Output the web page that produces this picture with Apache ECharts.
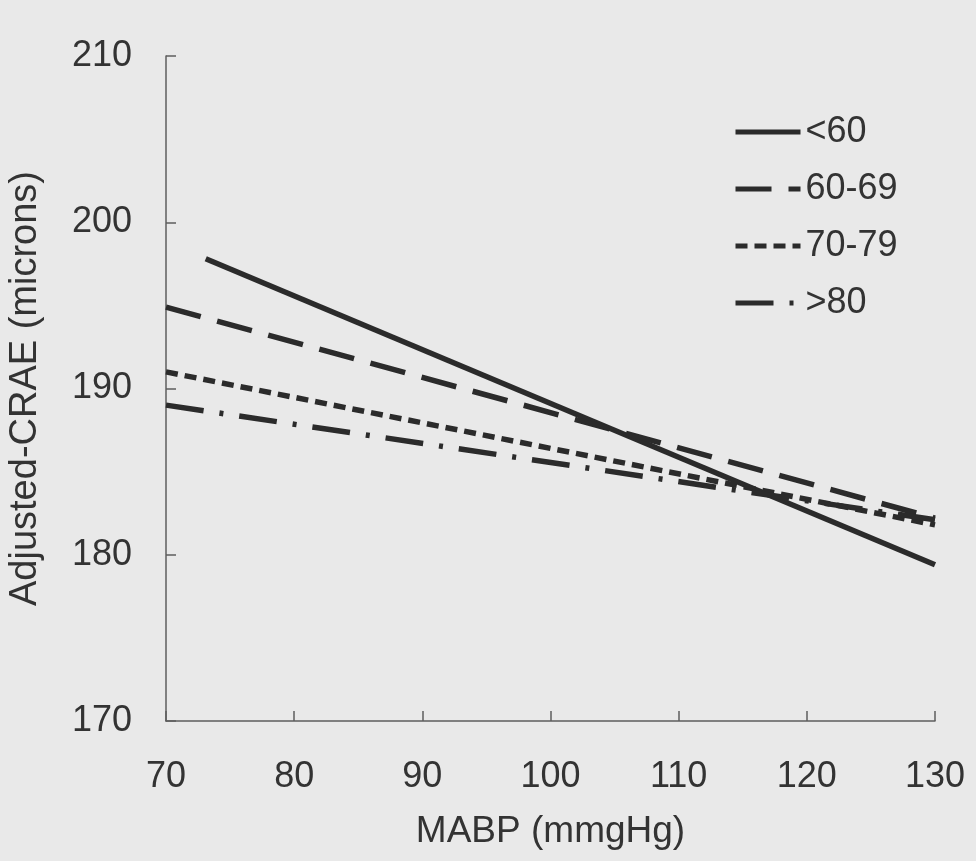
<!DOCTYPE html>
<html>
<head>
<meta charset="utf-8">
<script src="https://cdn.jsdelivr.net/npm/echarts@6/dist/echarts.min.js"></script>
<style>
html,body{margin:0;padding:0;background:#e9e9e9;}
#chart{width:976px;height:861px;}
</style>
</head>
<body>
<div id="chart"></div>
<script>
// Data
const seriesNames = ['<60', '60-69', '70-79', '>80'];
const mabpLt60 = [73.1, 130];
const craeLt60 = [197.8, 179.4];
const mabp6069 = [70, 130];
const crae6069 = [194.9, 182.2];
const mabp7079 = [70, 130];
const crae7079 = [191.0, 181.8];
const mabpGt80 = [70, 130];
const craeGt80 = [189.0, 182.1];
const xTicks = [70, 80, 90, 100, 110, 120, 130];
const yTicks = [170, 180, 190, 200, 210];

const pairs = (xs, ys) => xs.map((x, i) => [x, ys[i]]);
const lineColor = '#2b2b2b';
const textColor = '#333333';
const font = 'Liberation Sans, Arial, sans-serif';

const dashStyles = [
  'solid',
  [36, 17],
  [12, 7],
  [38, 16, 4, 16]
];
const dataSets = [
  pairs(mabpLt60, craeLt60),
  pairs(mabp6069, crae6069),
  pairs(mabp7079, crae7079),
  pairs(mabpGt80, craeGt80)
];

const chart = echarts.init(document.getElementById('chart'));
chart.setOption({
  backgroundColor: '#e9e9e9',
  animation: false,
  grid: { left: 166, right: 41, top: 56, bottom: 140, containLabel: false, outerBoundsMode: 'none' },
  legend: {
    data: seriesNames,
    orient: 'vertical',
    left: 728,
    top: 109,
    itemWidth: 65,
    itemHeight: 4,
    itemGap: 21,
    lineStyle: { width: 5 },
    itemStyle: { opacity: 0 },
    textStyle: { fontFamily: font, fontSize: 36, color: textColor }
  },
  xAxis: {
    type: 'value',
    min: xTicks[0],
    max: xTicks[xTicks.length - 1],
    interval: 10,
    name: 'MABP (mmgHg)',
    nameLocation: 'middle',
    nameGap: 92,
    nameTextStyle: { fontFamily: font, fontSize: 37, color: textColor },
    axisLine: { lineStyle: { color: '#5e5e5e', width: 1.5 } },
    axisTick: { inside: true, length: 10, lineStyle: { color: '#5e5e5e', width: 1.5 } },
    axisLabel: { fontFamily: font, fontSize: 36, color: textColor, margin: 38 },
    splitLine: { show: false }
  },
  yAxis: {
    type: 'value',
    min: yTicks[0],
    max: yTicks[yTicks.length - 1],
    interval: 10,
    name: 'Adjusted-CRAE (microns)',
    nameLocation: 'middle',
    nameGap: 121,
    nameRotate: 90,
    nameTextStyle: { fontFamily: font, fontSize: 38, color: textColor },
    axisLine: { show: true, lineStyle: { color: '#5e5e5e', width: 1.5 } },
    axisTick: { show: true, inside: true, length: 10, lineStyle: { color: '#5e5e5e', width: 1.5 } },
    axisLabel: { fontFamily: font, fontSize: 36, color: textColor, margin: 34 },
    splitLine: { show: false }
  },
  series: seriesNames.map((name, i) => ({
    name: name,
    type: 'line',
    data: dataSets[i],
    symbol: 'none',
    showSymbol: false,
    lineStyle: { color: lineColor, width: 5.5, type: dashStyles[i], cap: 'butt' },
    itemStyle: { color: lineColor }
  }))
});
</script>
</body>
</html>
